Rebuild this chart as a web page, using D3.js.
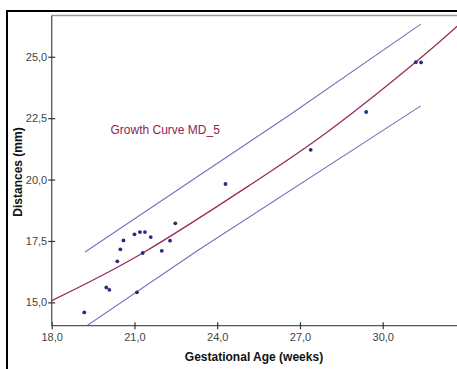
<!DOCTYPE html>
<html>
<head>
<meta charset="utf-8">
<script src="https://cdn.jsdelivr.net/npm/d3@7"></script>
<style>
  html, body { margin: 0; padding: 0; background: #fff; }
  svg { display: block; font-family: "Liberation Sans", Arial, sans-serif; }
</style>
</head>
<body>
<svg id="chart" width="457" height="369"></svg>
<script>
// ---- data ----
const xTicks = [18, 21, 24, 27, 30];
const yTicks = [15, 17.5, 20, 22.5, 25];

// observed points (weeks, mm)
const ages = [19.18, 19.98, 20.09, 21.09, 20.38, 20.49, 20.60, 21.00, 21.20, 21.38,
              21.59, 21.30, 21.99, 22.29, 22.48, 24.30, 27.39, 29.40, 31.20, 31.39];
const distances = [14.59, 15.61, 15.51, 15.41, 16.67, 17.16, 17.52, 17.77, 17.86, 17.86,
                   17.66, 17.01, 17.10, 17.51, 18.22, 19.82, 21.21, 22.75, 24.78, 24.77];

// growth curve (fitted) and the two band lines
const curveAges = [18.0, 21.3, 25.19, 28.09, 31.19, 32.8];
const curveDist = [15.07, 17.01, 19.78, 22.02, 24.78, 26.35];
const upperAges = [19.21, 22.29, 26.65, 31.38];
const upperDist = [17.05, 19.37, 22.65, 26.33];
const lowerAges = [19.21, 23.32, 31.38];
const lowerDist = [14.0, 17.13, 23.0];

const curveLabel = "Growth Curve MD_5";

// ---- layout ----
const svg = d3.select("#chart");
const plotL = 51.7, plotT = 15.5, plotR = 471, plotB = 325.7;

const x = d3.scaleLinear().domain([18, 33.2]).range([plotL, plotR]);
const y = d3.scaleLinear().domain([14.05, 26.68]).range([plotB, plotT]);

const fmt = d3.formatLocale({ decimal: ",", thousands: ".", grouping: [3], currency: ["", ""] }).format(".1f");

// outer frame
svg.append("rect")
    .attr("x", 7).attr("y", 11)
    .attr("width", 480).attr("height", 400)
    .attr("fill", "none")
    .attr("stroke", "#000")
    .attr("stroke-width", 2);

// top border of plot area
svg.append("line")
    .attr("x1", plotL).attr("x2", plotR)
    .attr("y1", plotT).attr("y2", plotT)
    .attr("stroke", "#9a9a9a")
    .attr("stroke-width", 1.5);

svg.append("clipPath").attr("id", "plotClip")
  .append("rect")
    .attr("x", plotL).attr("y", plotT)
    .attr("width", plotR - plotL).attr("height", plotB - plotT);

const plot = svg.append("g").attr("clip-path", "url(#plotClip)");

const line = d3.line().x(d => x(d[0])).y(d => y(d[1]));

// band lines
[[upperAges, upperDist], [lowerAges, lowerDist]].forEach(([xs, ys]) => {
  plot.append("path")
      .datum(d3.zip(xs, ys))
      .attr("fill", "none")
      .attr("stroke", "#7373ba")
      .attr("stroke-width", 1.1)
      .attr("d", line);
});

// growth curve
plot.append("path")
    .datum(d3.zip(curveAges, curveDist))
    .attr("fill", "none")
    .attr("stroke", "#9c2b5c")
    .attr("stroke-width", 1.3)
    .attr("d", line.curve(d3.curveNatural));

// points
plot.selectAll(".dot")
  .data(d3.zip(ages, distances))
  .enter().append("circle")
    .attr("class", "dot")
    .attr("cx", d => x(d[0]))
    .attr("cy", d => y(d[1]))
    .attr("r", 1.9)
    .attr("fill", "#2b2b7e");

// axes
const xAxis = svg.append("g")
    .attr("transform", `translate(0,${plotB})`)
    .call(d3.axisBottom(x).tickValues(xTicks).tickFormat(fmt).tickSize(3.5).tickPadding(4));

const yAxis = svg.append("g")
    .attr("transform", `translate(${plotL},0)`)
    .call(d3.axisLeft(y).tickValues(yTicks).tickFormat(fmt).tickSize(3.5).tickPadding(1));

[xAxis, yAxis].forEach(a => {
  a.select(".domain").attr("stroke", "#555").attr("stroke-width", 1.3);
  a.selectAll(".tick line").attr("stroke", "#333").attr("stroke-width", 1.2);
  a.selectAll(".tick text")
      .attr("fill", "#444")
      .style("font-size", "11px")
      .style("font-family", "'Liberation Sans', Arial, sans-serif");
});
xAxis.selectAll(".tick line").attr("y1", -3.5);
yAxis.selectAll(".tick line").attr("x1", 3.5);
// plain domain lines without end ticks
xAxis.select(".domain").attr("d", `M${plotL},0H${plotR}`);
yAxis.select(".domain").attr("d", `M0,${plotT}V${plotB}`);

// axis titles
svg.append("text")
    .attr("x", 254).attr("y", 361)
    .attr("text-anchor", "middle")
    .style("font-size", "12px")
    .style("font-weight", "bold")
    .attr("fill", "#111")
    .text("Gestational Age (weeks)");

svg.append("text")
    .attr("transform", "translate(22,172) rotate(-90)")
    .attr("text-anchor", "middle")
    .style("font-size", "12px")
    .style("font-weight", "bold")
    .attr("fill", "#111")
    .text("Distances (mm)");

// curve label
svg.append("text")
    .attr("x", 110.5).attr("y", 133.5)
    .style("font-size", "12px")
    .attr("fill", "#8e2454")
    .text(curveLabel);
</script>
</body>
</html>
